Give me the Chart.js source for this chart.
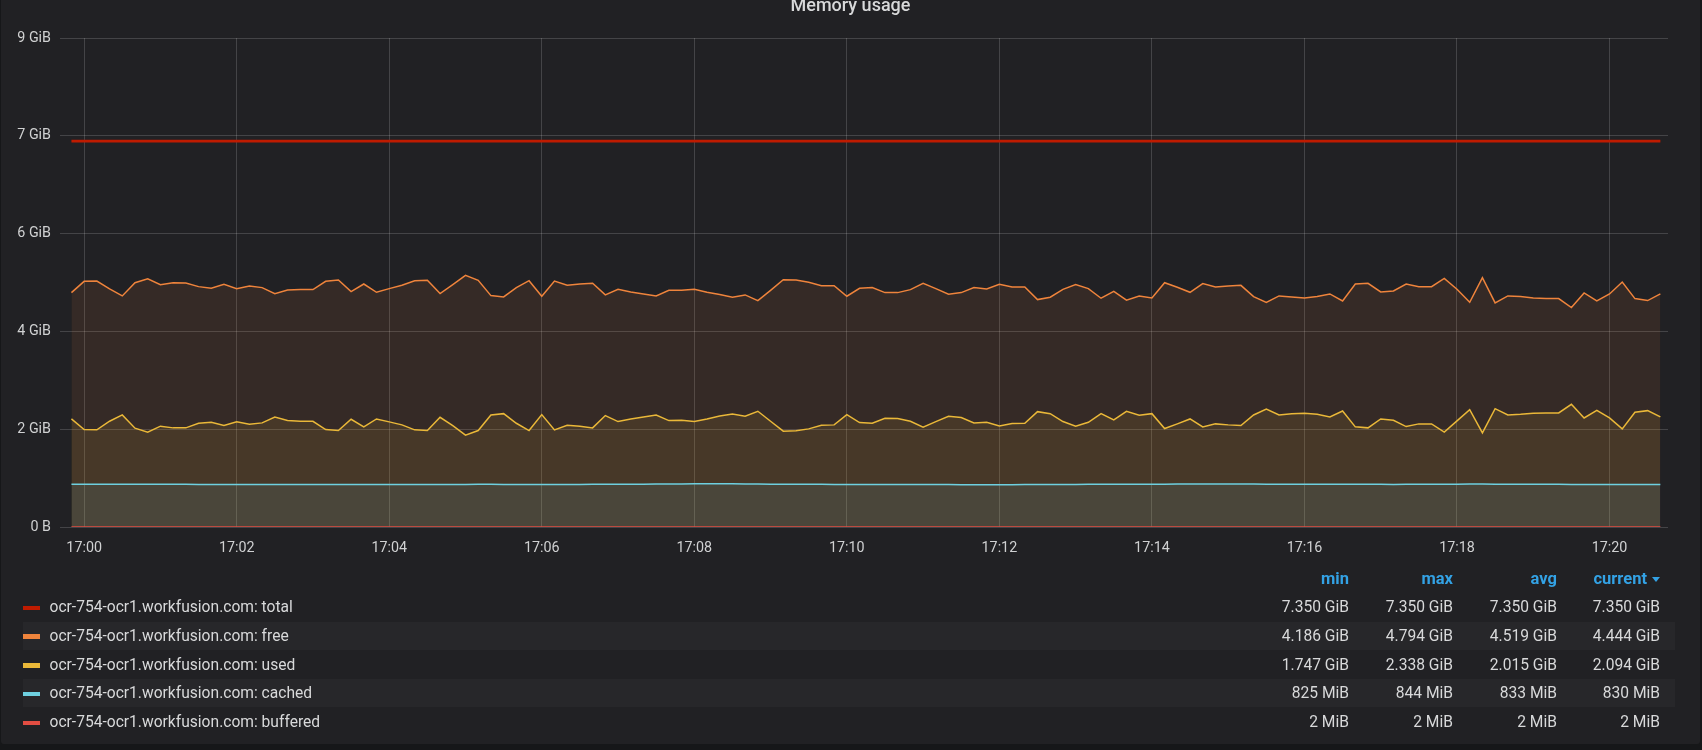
<!DOCTYPE html>
<html><head><meta charset="utf-8">
<script src="https://cdn.jsdelivr.net/npm/chart.js@4.4.1/dist/chart.umd.min.js"></script>
<style>
html,body{margin:0;padding:0;background:#161719;width:1702px;height:750px;overflow:hidden;font-family:Roboto,'Helvetica Neue',Arial,sans-serif;}
#panel{position:absolute;left:1px;top:-6px;width:1699px;height:750px;background:#212124;border-radius:3px;}
#title{position:absolute;left:0;width:1701px;top:-5px;text-align:center;font-size:18px;font-weight:500;color:#d8d9da;line-height:20px;white-space:nowrap;}
#chart{position:absolute;left:0;top:0;}
.band{position:absolute;left:23px;width:1652px;height:28.4px;background:rgba(255,255,255,0.028);}
.mk{position:absolute;left:23px;width:16.5px;height:4.5px;}
.nm{position:absolute;left:49.5px;font-size:15.6px;line-height:28.4px;height:28.4px;color:#d8d9da;white-space:nowrap;}
.val{position:absolute;width:120px;text-align:right;font-size:15.6px;line-height:28.4px;height:28.4px;color:#d8d9da;white-space:nowrap;}
.hd{position:absolute;width:120px;text-align:right;font-size:16.5px;font-weight:700;line-height:28.4px;height:28.4px;color:#33a2e5;white-space:nowrap;}
.caret{position:absolute;width:0;height:0;border-left:4px solid transparent;border-right:4px solid transparent;border-top:5px solid #33a2e5;}
</style>
</head><body>
<div id="panel"></div>
<div id="title">Memory usage</div>
<canvas id="chart" width="1702" height="575"></canvas>
<div id="legend"></div>
<script>
// ---------------- data ----------------
const sampleStart = '16:59:50';
const sampleStepSec = 10;

const seriesNames = [
  'ocr-754-ocr1.workfusion.com: total',
  'ocr-754-ocr1.workfusion.com: free',
  'ocr-754-ocr1.workfusion.com: used',
  'ocr-754-ocr1.workfusion.com: cached',
  'ocr-754-ocr1.workfusion.com: buffered'
];
const seriesColors = ['#BF1B00', '#EF843C', '#EAB839', '#6ED0E0', '#E24D42'];

const totalGiB = [
  7.35,7.35,7.35,7.35,7.35,7.35,7.35,7.35,7.35,7.35,7.35,7.35,7.35,7.35,7.35,7.35,7.35,7.35,7.35,7.35,
  7.35,7.35,7.35,7.35,7.35,7.35,7.35,7.35,7.35,7.35,7.35,7.35,7.35,7.35,7.35,7.35,7.35,7.35,7.35,7.35,
  7.35,7.35,7.35,7.35,7.35,7.35,7.35,7.35,7.35,7.35,7.35,7.35,7.35,7.35,7.35,7.35,7.35,7.35,7.35,7.35,
  7.35,7.35,7.35,7.35,7.35,7.35,7.35,7.35,7.35,7.35,7.35,7.35,7.35,7.35,7.35,7.35,7.35,7.35,7.35,7.35,
  7.35,7.35,7.35,7.35,7.35,7.35,7.35,7.35,7.35,7.35,7.35,7.35,7.35,7.35,7.35,7.35,7.35,7.35,7.35,7.35,
  7.35,7.35,7.35,7.35,7.35,7.35,7.35,7.35,7.35,7.35,7.35,7.35,7.35,7.35,7.35,7.35,7.35,7.35,7.35,7.35,
  7.35,7.35,7.35,7.35,7.35,7.35
];
const freeGiB = [
  4.464,4.679,4.685,4.534,4.401,4.653,4.729,4.616,4.653,4.647,4.578,4.546,4.622,4.540,4.590,4.559,
  4.445,4.515,4.521,4.521,4.679,4.704,4.483,4.628,4.470,4.540,4.603,4.691,4.698,4.445,4.616,4.792,
  4.698,4.407,4.382,4.559,4.691,4.395,4.685,4.603,4.628,4.641,4.420,4.527,4.477,4.439,4.401,4.508,
  4.508,4.527,4.470,4.426,4.376,4.420,4.312,4.508,4.710,4.704,4.660,4.597,4.597,4.395,4.546,
  4.559,4.464,4.464,4.521,4.641,4.540,4.432,4.464,4.559,4.534,4.622,4.571,4.571,4.331,4.376,4.527,
  4.616,4.540,4.357,4.489,4.319,4.401,4.363,4.653,4.565,4.470,4.635,4.571,4.590,4.603,4.388,4.275,
  4.401,4.382,4.363,4.388,4.439,4.306,4.628,4.641,4.477,4.496,4.628,4.578,4.578,4.736,4.527,4.281,
  4.748,4.268,4.401,4.388,4.363,4.350,4.350,4.180,4.458,4.306,4.439,4.666,4.350,4.312,4.439
];
const usedGiB = [
  2.058,1.856,1.850,2.014,2.134,1.882,1.806,1.920,1.888,1.888,1.976,1.995,1.932,2.002,1.957,1.983,
  2.096,2.027,2.014,2.014,1.856,1.837,2.052,1.907,2.058,2.002,1.945,1.850,1.837,2.090,1.932,1.750,
  1.837,2.134,2.159,1.976,1.837,2.141,1.850,1.938,1.920,1.888,2.122,2.008,2.058,2.096,2.134,2.027,
  2.033,2.008,2.058,2.115,2.153,2.109,2.204,2.014,1.825,1.831,1.869,1.938,1.945,2.141,1.989,
  1.976,2.071,2.065,2.014,1.901,2.008,2.109,2.084,1.983,1.995,1.926,1.970,1.976,2.197,2.159,2.008,
  1.920,1.995,2.159,2.039,2.204,2.128,2.159,1.875,1.964,2.058,1.907,1.964,1.945,1.932,2.134,2.248,
  2.134,2.159,2.166,2.147,2.096,2.210,1.907,1.888,2.058,2.033,1.913,1.964,1.964,1.806,2.021,2.235,
  1.793,2.254,2.134,2.147,2.166,2.172,2.172,2.336,2.077,2.223,2.077,1.869,2.185,2.216,2.096
];
const cachedMiB = [
  833,832,833,834,834,835,834,833,832,832,831,831,830,830,831,831,830,830,829,829,
  830,830,831,831,830,830,829,829,828,829,830,831,832,832,831,830,830,829,829,830,
  831,832,833,834,835,836,838,840,841,842,843,844,842,840,838,836,834,833,832,832,
  831,831,830,830,829,829,828,828,827,827,826,826,825,825,826,827,828,829,830,831,
  832,833,834,835,835,836,836,837,837,838,838,838,837,837,836,836,835,835,834,834,
  833,833,832,832,831,832,833,834,835,836,837,837,836,835,834,833,832,832,831,831,
  830,830,830,830,830,830
];
const bufferedMiB = [
  2,2,2,2,2,2,2,2,2,2,2,2,2,2,2,2,2,2,2,2,2,2,2,2,2,2,2,2,2,2,2,2,2,2,2,2,2,2,2,2,
  2,2,2,2,2,2,2,2,2,2,2,2,2,2,2,2,2,2,2,2,2,2,2,2,2,2,2,2,2,2,2,2,2,2,2,2,2,2,2,2,
  2,2,2,2,2,2,2,2,2,2,2,2,2,2,2,2,2,2,2,2,2,2,2,2,2,2,2,2,2,2,2,2,2,2,2,2,2,2,2,2,
  2,2,2,2,2,2
];

const xTickLabels = ['17:00','17:02','17:04','17:06','17:08','17:10','17:12','17:14','17:16','17:18','17:20'];
const yTickBytes = [0, 2e9, 4e9, 6e9, 8e9, 10e9];

const statHeaders = ['min', 'max', 'avg', 'current'];
const statMin = ['7.350 GiB', '4.186 GiB', '1.747 GiB', '825 MiB', '2 MiB'];
const statMax = ['7.350 GiB', '4.794 GiB', '2.338 GiB', '844 MiB', '2 MiB'];
const statAvg = ['7.350 GiB', '4.519 GiB', '2.015 GiB', '833 MiB', '2 MiB'];
const statCurrent = ['7.350 GiB', '4.444 GiB', '2.094 GiB', '830 MiB', '2 MiB'];

// ---------------- helpers ----------------
const GiB = 1073741824, MiB = 1048576;
function toSec(t) { const p = t.split(':').map(Number); return p[0]*3600 + p[1]*60 + (p[2] || 0); }
function fmtTime(s) { const h = Math.floor(s/3600), m = Math.floor((s%3600)/60); return String(h).padStart(2,'0') + ':' + String(m).padStart(2,'0'); }
function fmtBytes(v) { return v === 0 ? '0 B' : Math.round(v / GiB) + ' GiB'; }
const t0 = toSec(sampleStart);
function pts(arr, unit) { return arr.map((v, i) => ({ x: t0 + i*sampleStepSec, y: v*unit })); }
function rgba(hex, a) { const n = parseInt(hex.slice(1), 16); return `rgba(${n>>16},${(n>>8)&255},${n&255},${a})`; }

const seriesData = [pts(totalGiB, GiB), pts(freeGiB, GiB), pts(usedGiB, GiB), pts(cachedMiB, MiB), pts(bufferedMiB, MiB)];
const seriesFill = [false, true, true, true, true];
const seriesWidth = [2.6, 1.5, 1.5, 1.5, 1.5];

const datasets = seriesData.map((d, i) => ({
  label: seriesNames[i], data: d,
  borderColor: seriesColors[i], borderWidth: seriesWidth[i],
  backgroundColor: rgba(seriesColors[i], 0.1),
  fill: seriesFill[i] ? 'origin' : false,
  pointRadius: 0, tension: 0, order: -i
}));

const firstTick = toSec(xTickLabels[0]);
const gridColor = 'rgba(255,255,255,0.16)';
const tickColor = '#d0d1d2';

new Chart(document.getElementById('chart'), {
  type: 'line',
  data: { datasets },
  options: {
    responsive: false, animation: false,
    layout: { padding: { left: 0, right: 34, top: 38, bottom: 0 } },
    plugins: { legend: { display: false }, tooltip: { enabled: false }, filler: { drawTime: 'beforeDatasetsDraw' } },
    scales: {
      x: {
        type: 'linear', min: firstTick - 19, max: firstTick + 1246,
        afterBuildTicks: s => { s.ticks = xTickLabels.map(l => ({ value: toSec(l) })); },
        afterFit: s => { s.height = 48; },
        ticks: { callback: v => fmtTime(v), padding: 13, color: tickColor, font: { family: 'Roboto', size: 14.3 }, maxRotation: 0, autoSkip: false },
        grid: { color: gridColor, drawTicks: false, lineWidth: 1 },
        border: { display: false }
      },
      y: {
        min: 0, max: 10e9,
        afterBuildTicks: s => { s.ticks = yTickBytes.map(v => ({ value: v })); },
        afterFit: s => { s.width = 60; },
        ticks: { callback: v => fmtBytes(v), padding: 9, color: tickColor, font: { family: 'Roboto', size: 14.3 } },
        grid: { color: gridColor, drawTicks: false, lineWidth: 1 },
        border: { display: false }
      }
    }
  }
});

// ---------------- legend table ----------------
const lg = document.getElementById('legend');
const rowTop0 = 593.1, rowStep = 28.75;
const colRight = [1349, 1453, 1557, 1660];
const stats = [statMin, statMax, statAvg, statCurrent];
function add(cls, css, text) { const e = document.createElement('div'); e.className = cls; Object.assign(e.style, css); if (text !== undefined) e.textContent = text; lg.appendChild(e); return e; }
statHeaders.forEach((h, c) => {
  const right = c === 3 ? colRight[c] - 13 : colRight[c];
  add('hd', { left: (right - 120) + 'px', top: (rowTop0 - rowStep + 1) + 'px' }, h);
});
add('caret', { left: (colRight[3] - 8) + 'px', top: (rowTop0 - rowStep + 13) + 'px' });
seriesNames.forEach((n, r) => {
  const top = rowTop0 + r*rowStep;
  if (r % 2 === 1) add('band', { top: (top - 0.3) + 'px' });
  add('mk', { top: (top + 12.5) + 'px', background: seriesColors[r] });
  add('nm', { top: top + 'px' }, n);
  stats.forEach((s, c) => add('val', { left: (colRight[c] - 120) + 'px', top: top + 'px' }, s[r]));
});
</script>
</body></html>
